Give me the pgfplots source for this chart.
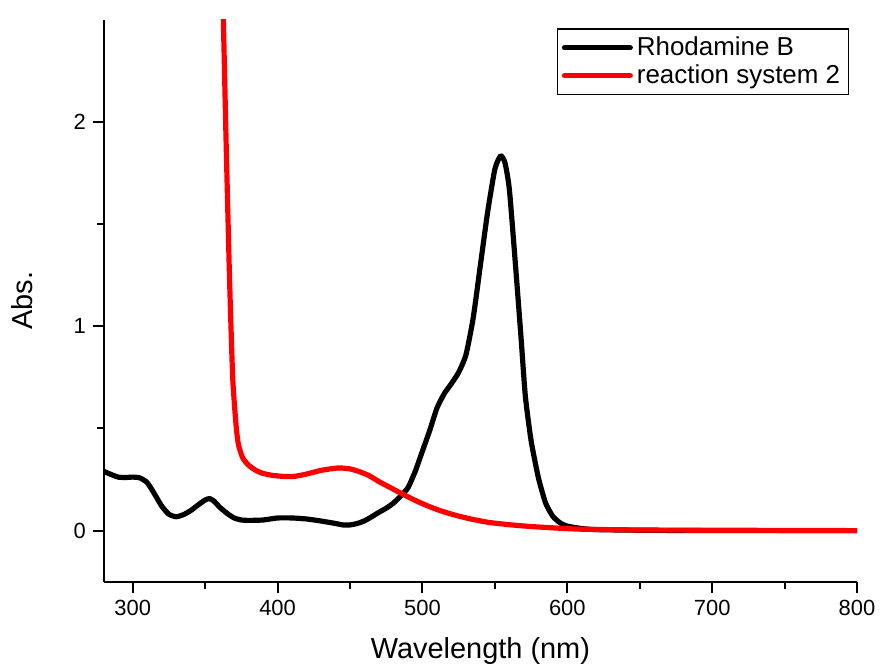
\documentclass[border=0pt]{standalone}
\usepackage{pgfplots}
\pgfplotsset{compat=1.18}
\usepackage{fontspec}
\setmainfont{Liberation Sans}
\begin{document}
\begin{tikzpicture}
\path (-52pt,-42.5pt) rectangle (389pt,291.5pt);
\begin{axis}[
  at={(0,0)}, anchor=south west,
  scale only axis, width=377.5pt, height=281.5pt,
  xmin=280, xmax=800, ymin=-0.25, ymax=2.5,
  axis x line*=bottom, axis y line*=left,
  axis line style={line width=1pt, -},
  tick align=outside,
  xtick={300,400,500,600,700,800},
  ytick={0,1,2},
  minor x tick num=1, minor y tick num=1,
  major tick length=5.5pt, minor tick length=3.5pt,
  every tick/.style={black, line width=1pt},
  /pgf/number format/assume math mode=true,
  ticklabel style={font=\fontsize{11}{13}\selectfont},
  xlabel={Wavelength (nm)}, ylabel={Abs.},
  label style={font=\fontsize{14.5}{17}\selectfont},
  xlabel style={at={(axis description cs:0.5,0)}, yshift=-34.5pt, anchor=center},
  ylabel style={at={(axis description cs:-0.1086,0.5)}, anchor=center},
  legend style={at={(rel axis cs:0.989,0.985)}, anchor=north east, draw=black, line width=0.6pt,
    font=\fontsize{13}{15.5}\selectfont, legend cell align=left, inner sep=2pt,
    row sep=-1pt},
  legend image code/.code={\draw[#1, line cap=round] (0pt,0pt) -- (33pt,0pt);},
]
\addplot[black, line width=2.6pt, smooth, tension=0.35, line join=round] coordinates {
(280,0.29) (285,0.275) (290,0.262) (295,0.26) (300,0.262) (305,0.258) (310,0.235)
(315,0.18) (320,0.12) (325,0.08) (330,0.068) (335,0.078) (340,0.098) (345,0.125)
(350,0.15) (353,0.157) (356,0.145) (360,0.115) (365,0.085) (370,0.062) (375,0.052)
(380,0.05) (390,0.052) (400,0.062) (410,0.062) (420,0.057) (430,0.047) (440,0.035)
(445,0.028) (450,0.028) (455,0.035) (460,0.048) (465,0.068) (470,0.09) (475,0.11)
(480,0.135) (485,0.17) (490,0.21) (495,0.29) (500,0.39) (505,0.49) (510,0.6)
(515,0.67) (520,0.72) (525,0.775) (530,0.86) (535,1.04) (540,1.3) (545,1.56)
(550,1.77) (554,1.835) (557,1.8) (560,1.67) (564,1.32) (568,0.95) (571,0.66)
(575,0.44) (580,0.26) (585,0.135) (590,0.07) (595,0.038) (600,0.022) (610,0.01)
(620,0.005) (650,0.002) (700,0.0) (800,0.0)
};
\addlegendentry{Rhodamine B}
\addplot[red, line width=2.6pt, smooth, tension=0.35, line join=round] coordinates {
(360.5,3.2) (362.6,2.49) (364.5,1.89) (366.8,1.24) (369,0.75) (371.4,0.51) (373,0.42)
(376,0.355) (380,0.32) (385,0.295) (390,0.28) (397,0.27) (405,0.265) (412,0.266)
(420,0.277) (430,0.295) (442,0.307) (450,0.302) (456,0.29) (463,0.27)
(470,0.24) (478,0.21) (486,0.18) (495,0.148) (504,0.12) (513,0.096) (523,0.075)
(534,0.056) (546,0.04) (560,0.029) (575,0.02) (594,0.012) (610,0.007) (650,0.003)
(700,0.002) (800,0.0)
};
\addlegendentry{reaction system 2}
\end{axis}
\end{tikzpicture}
\end{document}
